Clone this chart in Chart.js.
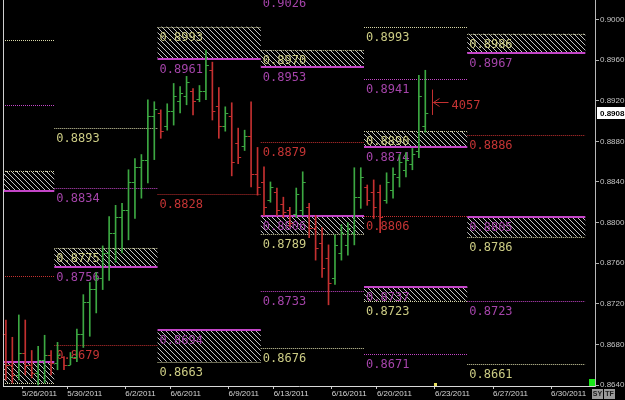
<!DOCTYPE html>
<html>
<head>
<meta charset="utf-8">
<script src="https://cdn.jsdelivr.net/npm/chart.js@4.4.1/dist/chart.umd.min.js"></script>
<style>
  html, body { margin: 0; padding: 0; background: #000; }
  canvas { display: block; background: #000; }
</style>
</head>
<body>
<canvas id="fxChart" width="625" height="400"></canvas>
<script>
// EUR/CHF-style 8h bars, 5/26/2011 - 6/23/2011
const highs = [0.8704, 0.8687, 0.8709, 0.8704, 0.8674, 0.8678, 0.8689, 0.8674, 0.8682, 0.8668,
               0.8672, 0.8695, 0.8729, 0.8741, 0.8751, 0.8777, 0.8806, 0.8817, 0.8819, 0.8852,
               0.8863, 0.8867, 0.8921, 0.8919, 0.8911, 0.8917, 0.8937, 0.8934, 0.8944, 0.8932,
               0.8935, 0.8970, 0.8958, 0.8933, 0.8914, 0.8918, 0.8893, 0.8891, 0.8919, 0.8874,
               0.8855, 0.8840, 0.8834, 0.8825, 0.8815, 0.8834, 0.8850, 0.8819, 0.8807, 0.8795,
               0.8778, 0.8788, 0.8798, 0.8800, 0.8854, 0.8854, 0.8837, 0.8842, 0.8837, 0.8849,
               0.8854, 0.8867, 0.8869, 0.8873, 0.8945, 0.8950];
const lows  = [0.8645, 0.8642, 0.8645, 0.8650, 0.8647, 0.8640, 0.8642, 0.8650, 0.8655, 0.8655,
               0.8660, 0.8663, 0.8677, 0.8688, 0.8711, 0.8734, 0.8743, 0.8761, 0.8770, 0.8783,
               0.8804, 0.8824, 0.8839, 0.8862, 0.8883, 0.8891, 0.8896, 0.8908, 0.8916, 0.8906,
               0.8919, 0.8921, 0.8901, 0.8883, 0.8890, 0.8846, 0.8858, 0.8871, 0.8835, 0.8827,
               0.8807, 0.8820, 0.8807, 0.8805, 0.8796, 0.8805, 0.8807, 0.8785, 0.8763, 0.8746,
               0.8719, 0.8739, 0.8763, 0.8768, 0.8778, 0.8814, 0.8817, 0.8804, 0.8790, 0.8819,
               0.8824, 0.8835, 0.8845, 0.8852, 0.8864, 0.8889];
const opens = [0.8690, 0.8660, 0.8650, 0.8672, 0.8660, 0.8652, 0.8665, 0.8670, 0.8662, 0.8668,
               0.8660, 0.8668, 0.8690, 0.8722, 0.8735, 0.8745, 0.8770, 0.8790, 0.8805, 0.8812,
               0.8840, 0.8855, 0.8862, 0.8905, 0.8908, 0.8895, 0.8910, 0.8920, 0.8925, 0.8930,
               0.8922, 0.8930, 0.8950, 0.8915, 0.8895, 0.8905, 0.8878, 0.8875, 0.8885, 0.8848,
               0.8840, 0.8822, 0.8830, 0.8818, 0.8812, 0.8808, 0.8812, 0.8815, 0.8795, 0.8780,
               0.8765, 0.8745, 0.8770, 0.8778, 0.8790, 0.8825, 0.8835, 0.8830, 0.8830, 0.8822,
               0.8832, 0.8845, 0.8852, 0.8858, 0.8870, 0.8895];
const closes = [0.8660, 0.8650, 0.8672, 0.8660, 0.8652, 0.8665, 0.8670, 0.8662, 0.8670, 0.8660,
                0.8668, 0.8690, 0.8722, 0.8735, 0.8745, 0.8770, 0.8790, 0.8805, 0.8812, 0.8840,
                0.8855, 0.8862, 0.8905, 0.8912, 0.8890, 0.8910, 0.8925, 0.8928, 0.8938, 0.8920,
                0.8930, 0.8955, 0.8910, 0.8895, 0.8908, 0.8860, 0.8865, 0.8885, 0.8848, 0.8835,
                0.8815, 0.8835, 0.8812, 0.8810, 0.8800, 0.8828, 0.8840, 0.8795, 0.8775, 0.8755,
                0.8740, 0.8778, 0.8790, 0.8795, 0.8825, 0.8845, 0.8822, 0.8815, 0.8805, 0.8840,
                0.8848, 0.8860, 0.8862, 0.8868, 0.8925, 0.8908];

// x axis date ticks (bar index positions)
const dateTicks  = [2.5, 9.5, 18.5, 25.5, 34.5, 41.5, 50.5, 57.5, 66.5, 75.5, 84.5];
const dateLabels = ['5/26/2011', '5/30/2011', '6/2/2011', '6/6/2011', '6/9/2011', '6/13/2011',
                    '6/16/2011', '6/20/2011', '6/23/2011', '6/27/2011', '6/30/2011'];
const priceTicks = [0.8640, 0.8680, 0.8720, 0.8760, 0.8800, 0.8840, 0.8880, 0.8920, 0.8960, 0.9000];

// weekly level segments (bar index from/to)
const segFrom = [-0.45, 7.5, 23.5, 39.5, 55.5, 71.5];
const segTo   = [7.5, 23.5, 39.5, 55.5, 71.5, 89.8];
const khakiLevels = [[0.8980, 0.8851, 0.8642], [0.8893, 0.8775], [0.8993, 0.8663],
                     [0.8970, 0.8789, 0.8676], [0.8993, 0.8890, 0.8723], [0.8986, 0.8786, 0.8661]];
const magentaLevels = [[0.8916, 0.8831, 0.8663], [0.8834, 0.8756], [0.8961, 0.8694],
                       [0.9026, 0.8953, 0.8806, 0.8733], [0.8941, 0.8874, 0.8737, 0.8671],
                       [0.8967, 0.8805, 0.8723]];
const pivotLevels = [0.8747, 0.8679, 0.8828, 0.8879, 0.8806, 0.8886];
const zones = [[[0.8851, 0.8831], [0.8663, 0.8642]], [[0.8775, 0.8756]],
               [[0.8993, 0.8961], [0.8694, 0.8663]], [[0.8970, 0.8953], [0.8806, 0.8789]],
               [[0.8890, 0.8874], [0.8737, 0.8723]], [[0.8986, 0.8967], [0.8805, 0.8786]]];

// "4057" marker
const noteX = 66.0, noteTop = 0.8931, noteBottom = 0.8906, noteText = '4057';

const GREEN = '#3ca842', RED = '#c43030';
const KHAKI_LINE = '#d8d8a8', KHAKI_TXT = '#cccc84';
const MAG_LINE = '#c446c8', MAG_TXT = '#a544aa';
const RED_TXT = '#c43434';
const MONO = '12px "DejaVu Sans Mono", monospace';
const NARROW = '"Liberation Sans Narrow", "Liberation Sans", sans-serif';

const barColors = closes.map((c, i) => c >= opens[i] ? GREEN : RED);

const hatch = (() => {
  const c = document.createElement('canvas');
  c.width = 5; c.height = 5;
  const g = c.getContext('2d');
  g.strokeStyle = '#c4c4c4';
  g.lineWidth = 1;
  g.beginPath();
  g.moveTo(-1, -1); g.lineTo(6, 6);
  g.moveTo(-1, 4); g.lineTo(1, 6);
  g.moveTo(4, -1); g.lineTo(6, 1);
  g.stroke();
  return c;
})();

function hLine(ctx, x0, x1, y, color, dotted, width) {
  ctx.save();
  ctx.strokeStyle = color;
  ctx.lineWidth = width || 1;
  ctx.setLineDash(dotted ? [1, 1] : []);
  const yy = Math.round(y) + (width === 2 ? 0 : 0.5);
  ctx.beginPath();
  ctx.moveTo(x0, yy);
  ctx.lineTo(x1, yy);
  ctx.stroke();
  ctx.restore();
}

function inZone(s, v) {
  return zones[s].some(z => z[0] === v || z[1] === v);
}

function noPad(s) {
  s.paddingTop = 0; s.paddingBottom = 0; s.paddingLeft = 0; s.paddingRight = 0;
}

const levelsPlugin = {
  id: 'levels',
  beforeDatasetsDraw(chart) {
    const { ctx, scales: { x, y } } = chart;
    const pat = ctx.createPattern(hatch, 'repeat');
    segFrom.forEach((from, s) => {
      const x0 = x.getPixelForValue(from), x1 = x.getPixelForValue(segTo[s]);
      zones[s].forEach(z => {
        const yt = y.getPixelForValue(z[0]), yb = y.getPixelForValue(z[1]);
        ctx.fillStyle = pat;
        ctx.fillRect(x0, yt, x1 - x0, yb - yt);
      });
      const labels = [];
      khakiLevels[s].forEach(v => {
        hLine(ctx, x0, x1, y.getPixelForValue(v), KHAKI_LINE, true, 1);
        labels.push([v, KHAKI_TXT]);
      });
      magentaLevels[s].forEach(v => {
        const solid = inZone(s, v);
        hLine(ctx, x0, x1, y.getPixelForValue(v), MAG_LINE, !solid, solid ? 2 : 1);
        labels.push([v, MAG_TXT]);
      });
      hLine(ctx, x0, x1, y.getPixelForValue(pivotLevels[s]), RED, true, 1);
      labels.push([pivotLevels[s], RED_TXT]);
      if (s === 0) return;
      ctx.save();
      ctx.font = MONO;
      ctx.textBaseline = 'alphabetic';
      ctx.textAlign = 'left';
      labels.forEach(([v, col]) => {
        ctx.fillStyle = col;
        ctx.fillText(v.toFixed(4), x0 + 2, Math.round(y.getPixelForValue(v)) + 14);
      });
      ctx.restore();
    });
  },
  afterDatasetsDraw(chart) {
    const { ctx, chartArea, scales: { x, y } } = chart;
    // open / close ticks
    ctx.save();
    ctx.lineWidth = 1;
    opens.forEach((o, i) => {
      const px = x.getPixelForValue(i);
      const yo = Math.round(y.getPixelForValue(o)) + 0.5;
      const yc = Math.round(y.getPixelForValue(closes[i])) + 0.5;
      ctx.strokeStyle = barColors[i];
      ctx.beginPath();
      ctx.moveTo(px - 3, yo); ctx.lineTo(px, yo);
      ctx.moveTo(px, yc); ctx.lineTo(px + 3, yc);
      ctx.stroke();
    });
    ctx.restore();

    // 4057 marker
    const nx = Math.round(x.getPixelForValue(noteX)) + 0.5;
    const nt = y.getPixelForValue(noteTop), nb = y.getPixelForValue(noteBottom);
    const nm = Math.round((nt + nb) / 2) + 0.5;
    ctx.save();
    ctx.strokeStyle = RED;
    ctx.lineWidth = 1;
    ctx.beginPath();
    ctx.moveTo(nx, nt); ctx.lineTo(nx, nb);
    ctx.moveTo(nx + 1, nm); ctx.lineTo(nx + 16, nm);
    ctx.moveTo(nx + 1, nm); ctx.lineTo(nx + 7, nm - 4);
    ctx.moveTo(nx + 1, nm); ctx.lineTo(nx + 7, nm + 4);
    ctx.stroke();
    ctx.fillStyle = RED_TXT;
    ctx.font = MONO;
    ctx.fillText(noteText, nx + 19, nm + 6);

    // left frame line
    ctx.strokeStyle = '#d0d0d0';
    ctx.beginPath();
    ctx.moveTo(chartArea.left + 0.5, chartArea.top);
    ctx.lineTo(chartArea.left + 0.5, chartArea.bottom);
    ctx.stroke();
    ctx.restore();
  },
  afterDraw(chart) {
    const { ctx, chartArea, scales: { x, y } } = chart;
    ctx.save();
    // last price box
    const last = closes[closes.length - 1];
    const ly = Math.round(y.getPixelForValue(last));
    ctx.fillStyle = '#ffffff';
    ctx.fillRect(chartArea.right + 2, ly - 6, 28, 12);
    ctx.fillStyle = '#000000';
    ctx.font = 'bold 8px ' + NARROW;
    ctx.textBaseline = 'middle';
    ctx.fillText(last.toFixed(4), chartArea.right + 5, ly + 0.5);
    // current-date marker on the time axis
    const mx = Math.round(x.getPixelForValue(dateTicks[8]));
    ctx.fillStyle = '#e8e060';
    ctx.fillRect(mx - 1, chartArea.bottom - 3, 3, 3);
    // green status square and SY / TF buttons
    ctx.fillStyle = '#19e619';
    ctx.fillRect(chartArea.right - 6, chartArea.bottom - 7, 6, 7);
    ['SY', 'TF'].forEach((t, k) => {
      const bx = chartArea.right - 3 + k * 12;
      ctx.fillStyle = '#9a9a9a';
      ctx.fillRect(bx, chartArea.bottom + 3, 11, 10);
      ctx.fillStyle = '#202020';
      ctx.font = 'bold 7px "Liberation Sans", sans-serif';
      ctx.textAlign = 'center';
      ctx.fillText(t, bx + 5.5, chartArea.bottom + 8.5);
    });
    ctx.restore();
  }
};

new Chart(document.getElementById('fxChart').getContext('2d'), {
  type: 'bar',
  data: {
    datasets: [{
      data: highs.map((h, i) => ({ x: i, y: [lows[i], h] })),
      backgroundColor: barColors,
      borderWidth: 0,
      barThickness: 1
    }]
  },
  options: {
    responsive: false,
    animation: false,
    layout: { padding: { left: 3, top: 0, right: 0, bottom: 0 }, autoPadding: false },
    plugins: { legend: { display: false }, tooltip: { enabled: false } },
    scales: {
      x: {
        type: 'linear',
        offset: false,
        min: -0.45,
        max: 91.3,
        afterBuildTicks: s => { s.ticks = dateTicks.map(v => ({ value: v })); },
        afterFit: s => { s.height = 14; noPad(s); },
        ticks: {
          align: 'start',
          padding: 0,
          color: '#d4d4d4',
          font: { family: NARROW, size: 8 },
          callback: v => dateLabels[dateTicks.indexOf(v)]
        },
        grid: { offset: false, drawOnChartArea: false, tickLength: 3, color: '#c8c8c8' },
        border: { color: '#d8d8d8' }
      },
      y: {
        position: 'right',
        min: 0.863902,
        max: 0.901921,
        afterBuildTicks: s => { s.ticks = priceTicks.map(v => ({ value: v })); },
        afterFit: s => { s.width = 30; noPad(s); },
        ticks: {
          padding: 1,
          color: '#c4c4c4',
          font: { family: NARROW, size: 8 },
          callback: v => v.toFixed(4)
        },
        grid: { drawOnChartArea: false, tickLength: 4, color: '#b0b0b0' },
        border: { color: '#b8b8b8' }
      }
    }
  },
  plugins: [levelsPlugin]
});
</script>
</body>
</html>
